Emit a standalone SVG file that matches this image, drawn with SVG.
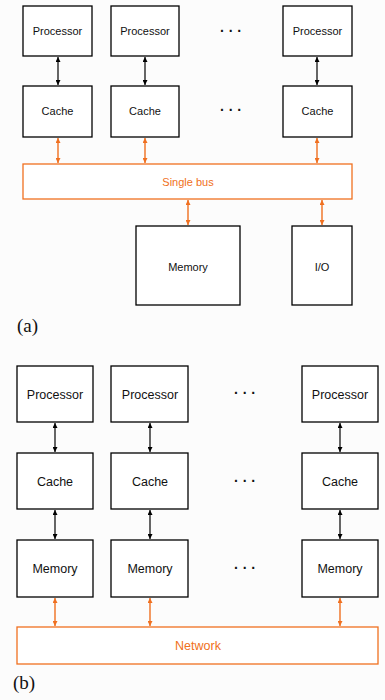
<svg xmlns="http://www.w3.org/2000/svg" width="385" height="700" viewBox="0 0 385 700">
<defs>
<marker id="ab" viewBox="0 0 8 8" refX="8" refY="4" markerWidth="5" markerHeight="5" markerUnits="userSpaceOnUse" orient="auto-start-reverse"><path d="M0,0 L8,4 L0,8 Z" fill="#000"/></marker>
<marker id="ao" viewBox="0 0 8 8" refX="8" refY="4" markerWidth="5" markerHeight="5" markerUnits="userSpaceOnUse" orient="auto-start-reverse"><path d="M0,0 L8,4 L0,8 Z" fill="#f07020"/></marker>
</defs>
<style>
.box{fill:#fff;stroke:#000;stroke-width:1.3}
.bus{fill:#fff;stroke:#f07020;stroke-width:1.3}
.t{font-family:"Liberation Sans",Arial,sans-serif;font-size:11px;fill:#111;text-anchor:middle}
.tb{font-family:"Liberation Sans",Arial,sans-serif;font-size:12.5px;fill:#111;text-anchor:middle}
.to{fill:#f07020}
.lab{font-family:"Liberation Serif","Times New Roman",serif;font-size:19px;fill:#111}
.cb{stroke:#000;stroke-width:1.2;fill:none;marker-start:url(#ab);marker-end:url(#ab)}
.co{stroke:#f07020;stroke-width:1.4;fill:none;marker-start:url(#ao);marker-end:url(#ao)}
.dots{font-family:"Liberation Sans",Arial,sans-serif;font-size:14px;font-weight:bold;fill:#111;text-anchor:middle}
</style>
<rect width="385" height="700" fill="#fcfcfc"/>
<!-- (a) -->
<g id="a-proc1"><rect class="box" x="23" y="6" width="69" height="50"/><text class="t" x="57.5" y="35">Processor</text></g>
<g id="a-proc2"><rect class="box" x="111" y="6" width="68" height="50"/><text class="t" x="145" y="35">Processor</text></g>
<g id="a-proc3"><rect class="box" x="283" y="6" width="69" height="50"/><text class="t" x="317.5" y="35">Processor</text></g>
<g id="a-cache1"><rect class="box" x="23" y="86" width="69" height="51"/><text class="t" x="57.5" y="115">Cache</text></g>
<g id="a-cache2"><rect class="box" x="111" y="86" width="68" height="51"/><text class="t" x="145" y="115">Cache</text></g>
<g id="a-cache3"><rect class="box" x="283" y="86" width="69" height="51"/><text class="t" x="317.5" y="115">Cache</text></g>
<g id="a-dots"><text class="dots" x="231" y="36">· · ·</text><text class="dots" x="231" y="115">· · ·</text></g>
<g id="a-bus"><rect class="bus" x="23" y="164" width="329" height="35"/><text class="t to" x="188" y="186">Single bus</text></g>
<g id="a-mem"><rect class="box" x="136" y="226" width="104" height="79"/><text class="t" x="188" y="271">Memory</text></g>
<g id="a-io"><rect class="box" x="292" y="226" width="60" height="79"/><text class="t" x="322" y="271">I/O</text></g>
<text class="lab" x="17" y="332">(a)</text>
<!-- (b) -->
<g id="b-proc1"><rect class="box" x="17" y="366" width="76" height="56"/><text class="tb" x="55" y="399">Processor</text></g>
<g id="b-proc2"><rect class="box" x="111" y="366" width="77" height="56"/><text class="tb" x="150" y="399">Processor</text></g>
<g id="b-proc3"><rect class="box" x="302" y="366" width="76" height="56"/><text class="tb" x="340" y="399">Processor</text></g>
<g id="b-cache1"><rect class="box" x="17" y="453" width="76" height="56"/><text class="tb" x="55" y="486">Cache</text></g>
<g id="b-cache2"><rect class="box" x="111" y="453" width="77" height="56"/><text class="tb" x="150" y="486">Cache</text></g>
<g id="b-cache3"><rect class="box" x="302" y="453" width="76" height="56"/><text class="tb" x="340" y="486">Cache</text></g>
<g id="b-mem1"><rect class="box" x="17" y="540" width="76" height="57"/><text class="tb" x="55" y="573">Memory</text></g>
<g id="b-mem2"><rect class="box" x="111" y="540" width="77" height="57"/><text class="tb" x="150" y="573">Memory</text></g>
<g id="b-mem3"><rect class="box" x="302" y="540" width="76" height="57"/><text class="tb" x="340" y="573">Memory</text></g>
<g id="b-dots"><text class="dots" x="245" y="398">· · ·</text><text class="dots" x="245" y="486">· · ·</text><text class="dots" x="245" y="573">· · ·</text></g>
<g id="b-net"><rect class="bus" x="17" y="627" width="361" height="37"/><text class="tb to" x="198" y="650">Network</text></g>
<text class="lab" x="13" y="689">(b)</text>
<!-- connectors -->
<g id="connectors">
<line class="cb" x1="58" y1="57" x2="58" y2="85"/>
<line class="cb" x1="145" y1="57" x2="145" y2="85"/>
<line class="cb" x1="317" y1="57" x2="317" y2="85"/>
<line class="co" x1="58" y1="138" x2="58" y2="163"/>
<line class="co" x1="145" y1="138" x2="145" y2="163"/>
<line class="co" x1="317" y1="138" x2="317" y2="163"/>
<line class="co" x1="188" y1="200" x2="188" y2="225"/>
<line class="co" x1="322" y1="200" x2="322" y2="225"/>
<line class="cb" x1="55" y1="423" x2="55" y2="452"/>
<line class="cb" x1="150" y1="423" x2="150" y2="452"/>
<line class="cb" x1="340" y1="423" x2="340" y2="452"/>
<line class="cb" x1="55" y1="510" x2="55" y2="539"/>
<line class="cb" x1="150" y1="510" x2="150" y2="539"/>
<line class="cb" x1="340" y1="510" x2="340" y2="539"/>
<line class="co" x1="55" y1="598" x2="55" y2="626"/>
<line class="co" x1="150" y1="598" x2="150" y2="626"/>
<line class="co" x1="340" y1="598" x2="340" y2="626"/>
</g>
</svg>
